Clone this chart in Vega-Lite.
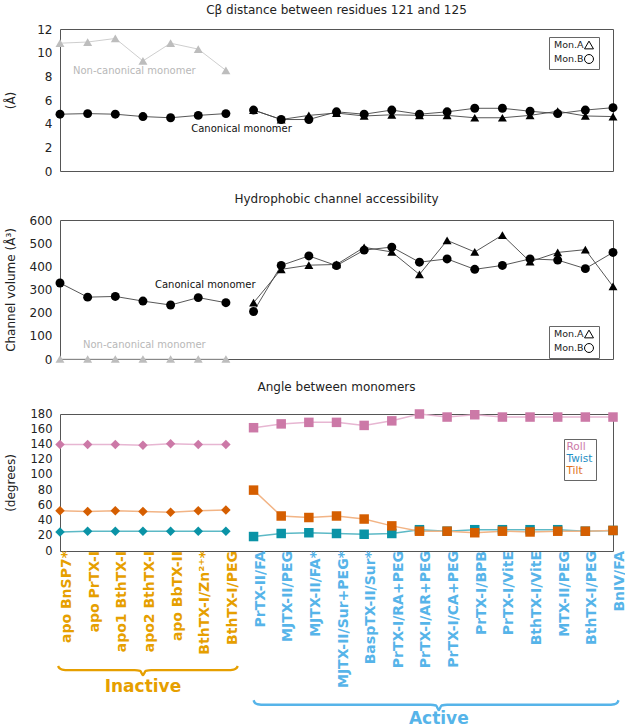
{
"$schema": "https://vega.github.io/schema/vega-lite/v6.json",
"padding": {"left": 3, "right": 3, "top": 3, "bottom": 0},
"background": "white",
"spacing": 14,
"config": {
  "font": "DejaVu Sans",
  "view": {"stroke": "#555", "strokeWidth": 1},
  "axis": {"grid": false, "domain": false, "labelFont": "DejaVu Sans", "labelFontSize": 12, "labelColor": "#222", "labelOverlap": false, "titleFont": "DejaVu Sans", "titleFontSize": 12, "titleFontWeight": "normal", "titleColor": "#222", "tickColor": "#555"},
  "axisY": {"labelOverlap": false},
  "axisQuantitative": {"labelOverlap": false},
  "title": {"font": "DejaVu Sans", "fontSize": 12, "fontWeight": "normal", "color": "#222"},
  "legend": {"labelFont": "DejaVu Sans"}
},
"resolve": {"scale": {"color": "independent", "shape": "independent"}, "legend": {"color": "independent", "shape": "independent"}},
"datasets": {
  "cats": [
    {"i": 0, "name": "apo BnSP7*", "state": "Inactive"},
    {"i": 1, "name": "apo PrTX-I", "state": "Inactive"},
    {"i": 2, "name": "apo1 BthTX-I", "state": "Inactive"},
    {"i": 3, "name": "apo2 BthTX-I", "state": "Inactive"},
    {"i": 4, "name": "apo BbTX-II", "state": "Inactive"},
    {"i": 5, "name": "BthTX-I/Zn²⁺*", "state": "Inactive"},
    {"i": 6, "name": "BthTX-I/PEG", "state": "Inactive"},
    {"i": 7, "name": "PrTX-II/FA", "state": "Active"},
    {"i": 8, "name": "MJTX-II/PEG", "state": "Active"},
    {"i": 9, "name": "MJTX-II/FA*", "state": "Active"},
    {"i": 10, "name": "MJTX-II/Sur+PEG*", "state": "Active"},
    {"i": 11, "name": "BaspTX-II/Sur*", "state": "Active"},
    {"i": 12, "name": "PrTX-I/RA+PEG", "state": "Active"},
    {"i": 13, "name": "PrTX-I/AR+PEG", "state": "Active"},
    {"i": 14, "name": "PrTX-I/CA+PEG", "state": "Active"},
    {"i": 15, "name": "PrTX-I/BPB", "state": "Active"},
    {"i": 16, "name": "PrTX-I/VitE", "state": "Active"},
    {"i": 17, "name": "BthTX-I/VitE", "state": "Active"},
    {"i": 18, "name": "MTX-II/PEG", "state": "Active"},
    {"i": 19, "name": "BthTX-I/PEG", "state": "Active"},
    {"i": 20, "name": "BnIV/FA", "state": "Active"}
  ],
  "mono": [
    {"i": 0, "mon": "Mon.A", "grp": "Inactive", "tone": "non-canonical", "cb": 10.8, "vol": 0},
    {"i": 1, "mon": "Mon.A", "grp": "Inactive", "tone": "non-canonical", "cb": 10.9, "vol": 0},
    {"i": 2, "mon": "Mon.A", "grp": "Inactive", "tone": "non-canonical", "cb": 11.2, "vol": 0},
    {"i": 3, "mon": "Mon.A", "grp": "Inactive", "tone": "non-canonical", "cb": 9.3, "vol": 0},
    {"i": 4, "mon": "Mon.A", "grp": "Inactive", "tone": "non-canonical", "cb": 10.8, "vol": 0},
    {"i": 5, "mon": "Mon.A", "grp": "Inactive", "tone": "non-canonical", "cb": 10.3, "vol": 0},
    {"i": 6, "mon": "Mon.A", "grp": "Inactive", "tone": "non-canonical", "cb": 8.5, "vol": 0},
    {"i": 0, "mon": "Mon.B", "grp": "Inactive", "tone": "canonical", "cb": 4.8, "vol": 328},
    {"i": 1, "mon": "Mon.B", "grp": "Inactive", "tone": "canonical", "cb": 4.85, "vol": 267},
    {"i": 2, "mon": "Mon.B", "grp": "Inactive", "tone": "canonical", "cb": 4.8, "vol": 270},
    {"i": 3, "mon": "Mon.B", "grp": "Inactive", "tone": "canonical", "cb": 4.6, "vol": 250},
    {"i": 4, "mon": "Mon.B", "grp": "Inactive", "tone": "canonical", "cb": 4.5, "vol": 233},
    {"i": 5, "mon": "Mon.B", "grp": "Inactive", "tone": "canonical", "cb": 4.7, "vol": 265},
    {"i": 6, "mon": "Mon.B", "grp": "Inactive", "tone": "canonical", "cb": 4.85, "vol": 243},
    {"i": 7, "mon": "Mon.A", "grp": "Active", "tone": "canonical", "cb": 5.15, "vol": 243},
    {"i": 8, "mon": "Mon.A", "grp": "Active", "tone": "canonical", "cb": 4.35, "vol": 387},
    {"i": 9, "mon": "Mon.A", "grp": "Active", "tone": "canonical", "cb": 4.7, "vol": 405},
    {"i": 10, "mon": "Mon.A", "grp": "Active", "tone": "canonical", "cb": 4.9, "vol": 408},
    {"i": 11, "mon": "Mon.A", "grp": "Active", "tone": "canonical", "cb": 4.65, "vol": 482},
    {"i": 12, "mon": "Mon.A", "grp": "Active", "tone": "canonical", "cb": 4.75, "vol": 462},
    {"i": 13, "mon": "Mon.A", "grp": "Active", "tone": "canonical", "cb": 4.7, "vol": 365},
    {"i": 14, "mon": "Mon.A", "grp": "Active", "tone": "canonical", "cb": 4.7, "vol": 512},
    {"i": 15, "mon": "Mon.A", "grp": "Active", "tone": "canonical", "cb": 4.5, "vol": 462},
    {"i": 16, "mon": "Mon.A", "grp": "Active", "tone": "canonical", "cb": 4.5, "vol": 535},
    {"i": 17, "mon": "Mon.A", "grp": "Active", "tone": "canonical", "cb": 4.7, "vol": 420},
    {"i": 18, "mon": "Mon.A", "grp": "Active", "tone": "canonical", "cb": 5.05, "vol": 460},
    {"i": 19, "mon": "Mon.A", "grp": "Active", "tone": "canonical", "cb": 4.65, "vol": 472},
    {"i": 20, "mon": "Mon.A", "grp": "Active", "tone": "canonical", "cb": 4.6, "vol": 313},
    {"i": 7, "mon": "Mon.B", "grp": "Active", "tone": "canonical", "cb": 5.15, "vol": 205},
    {"i": 8, "mon": "Mon.B", "grp": "Active", "tone": "canonical", "cb": 4.35, "vol": 404},
    {"i": 9, "mon": "Mon.B", "grp": "Active", "tone": "canonical", "cb": 4.35, "vol": 445},
    {"i": 10, "mon": "Mon.B", "grp": "Active", "tone": "canonical", "cb": 5.0, "vol": 403},
    {"i": 11, "mon": "Mon.B", "grp": "Active", "tone": "canonical", "cb": 4.8, "vol": 470},
    {"i": 12, "mon": "Mon.B", "grp": "Active", "tone": "canonical", "cb": 5.15, "vol": 483},
    {"i": 13, "mon": "Mon.B", "grp": "Active", "tone": "canonical", "cb": 4.8, "vol": 418},
    {"i": 14, "mon": "Mon.B", "grp": "Active", "tone": "canonical", "cb": 5.0, "vol": 432},
    {"i": 15, "mon": "Mon.B", "grp": "Active", "tone": "canonical", "cb": 5.3, "vol": 387},
    {"i": 16, "mon": "Mon.B", "grp": "Active", "tone": "canonical", "cb": 5.3, "vol": 404},
    {"i": 17, "mon": "Mon.B", "grp": "Active", "tone": "canonical", "cb": 5.05, "vol": 432},
    {"i": 18, "mon": "Mon.B", "grp": "Active", "tone": "canonical", "cb": 4.85, "vol": 427},
    {"i": 19, "mon": "Mon.B", "grp": "Active", "tone": "canonical", "cb": 5.15, "vol": 390},
    {"i": 20, "mon": "Mon.B", "grp": "Active", "tone": "canonical", "cb": 5.35, "vol": 460}
  ],
  "angles": [
    {"i": 0, "grp": "Inactive", "angle": "Roll", "deg": 140},
    {"i": 1, "grp": "Inactive", "angle": "Roll", "deg": 140},
    {"i": 2, "grp": "Inactive", "angle": "Roll", "deg": 140},
    {"i": 3, "grp": "Inactive", "angle": "Roll", "deg": 139},
    {"i": 4, "grp": "Inactive", "angle": "Roll", "deg": 141},
    {"i": 5, "grp": "Inactive", "angle": "Roll", "deg": 140},
    {"i": 6, "grp": "Inactive", "angle": "Roll", "deg": 140},
    {"i": 0, "grp": "Inactive", "angle": "Twist", "deg": 25},
    {"i": 1, "grp": "Inactive", "angle": "Twist", "deg": 26},
    {"i": 2, "grp": "Inactive", "angle": "Twist", "deg": 26},
    {"i": 3, "grp": "Inactive", "angle": "Twist", "deg": 26},
    {"i": 4, "grp": "Inactive", "angle": "Twist", "deg": 26},
    {"i": 5, "grp": "Inactive", "angle": "Twist", "deg": 26},
    {"i": 6, "grp": "Inactive", "angle": "Twist", "deg": 26},
    {"i": 0, "grp": "Inactive", "angle": "Tilt", "deg": 53},
    {"i": 1, "grp": "Inactive", "angle": "Tilt", "deg": 52},
    {"i": 2, "grp": "Inactive", "angle": "Tilt", "deg": 53},
    {"i": 3, "grp": "Inactive", "angle": "Tilt", "deg": 52},
    {"i": 4, "grp": "Inactive", "angle": "Tilt", "deg": 51},
    {"i": 5, "grp": "Inactive", "angle": "Tilt", "deg": 53},
    {"i": 6, "grp": "Inactive", "angle": "Tilt", "deg": 54},
    {"i": 7, "grp": "Active", "angle": "Roll", "deg": 162},
    {"i": 8, "grp": "Active", "angle": "Roll", "deg": 167},
    {"i": 9, "grp": "Active", "angle": "Roll", "deg": 169},
    {"i": 10, "grp": "Active", "angle": "Roll", "deg": 169},
    {"i": 11, "grp": "Active", "angle": "Roll", "deg": 165},
    {"i": 12, "grp": "Active", "angle": "Roll", "deg": 171},
    {"i": 13, "grp": "Active", "angle": "Roll", "deg": 180},
    {"i": 14, "grp": "Active", "angle": "Roll", "deg": 176},
    {"i": 15, "grp": "Active", "angle": "Roll", "deg": 179},
    {"i": 16, "grp": "Active", "angle": "Roll", "deg": 176},
    {"i": 17, "grp": "Active", "angle": "Roll", "deg": 176},
    {"i": 18, "grp": "Active", "angle": "Roll", "deg": 176},
    {"i": 19, "grp": "Active", "angle": "Roll", "deg": 176},
    {"i": 20, "grp": "Active", "angle": "Roll", "deg": 176},
    {"i": 7, "grp": "Active", "angle": "Twist", "deg": 19},
    {"i": 8, "grp": "Active", "angle": "Twist", "deg": 23},
    {"i": 9, "grp": "Active", "angle": "Twist", "deg": 24},
    {"i": 10, "grp": "Active", "angle": "Twist", "deg": 23},
    {"i": 11, "grp": "Active", "angle": "Twist", "deg": 22},
    {"i": 12, "grp": "Active", "angle": "Twist", "deg": 23},
    {"i": 13, "grp": "Active", "angle": "Twist", "deg": 28},
    {"i": 14, "grp": "Active", "angle": "Twist", "deg": 26},
    {"i": 15, "grp": "Active", "angle": "Twist", "deg": 28},
    {"i": 16, "grp": "Active", "angle": "Twist", "deg": 28},
    {"i": 17, "grp": "Active", "angle": "Twist", "deg": 28},
    {"i": 18, "grp": "Active", "angle": "Twist", "deg": 28},
    {"i": 19, "grp": "Active", "angle": "Twist", "deg": 26},
    {"i": 20, "grp": "Active", "angle": "Twist", "deg": 27},
    {"i": 7, "grp": "Active", "angle": "Tilt", "deg": 80},
    {"i": 8, "grp": "Active", "angle": "Tilt", "deg": 46},
    {"i": 9, "grp": "Active", "angle": "Tilt", "deg": 44},
    {"i": 10, "grp": "Active", "angle": "Tilt", "deg": 46},
    {"i": 11, "grp": "Active", "angle": "Tilt", "deg": 42},
    {"i": 12, "grp": "Active", "angle": "Tilt", "deg": 33},
    {"i": 13, "grp": "Active", "angle": "Tilt", "deg": 26},
    {"i": 14, "grp": "Active", "angle": "Tilt", "deg": 26},
    {"i": 15, "grp": "Active", "angle": "Tilt", "deg": 24},
    {"i": 16, "grp": "Active", "angle": "Tilt", "deg": 26},
    {"i": 17, "grp": "Active", "angle": "Tilt", "deg": 25},
    {"i": 18, "grp": "Active", "angle": "Tilt", "deg": 26},
    {"i": 19, "grp": "Active", "angle": "Tilt", "deg": 26},
    {"i": 20, "grp": "Active", "angle": "Tilt", "deg": 27}
  ],
  "braces": [
    {"state": "Inactive", "bx": -0.07, "by": -151},
    {"state": "Inactive", "bx": -0.02, "by": -154},
    {"state": "Inactive", "bx": 0.08, "by": -155.8},
    {"state": "Inactive", "bx": 0.3, "by": -156.5},
    {"state": "Inactive", "bx": 2.7, "by": -156.5},
    {"state": "Inactive", "bx": 2.9, "by": -157.5},
    {"state": "Inactive", "bx": 3.0, "by": -163},
    {"state": "Inactive", "bx": 3.1, "by": -157.5},
    {"state": "Inactive", "bx": 3.3, "by": -156.5},
    {"state": "Inactive", "bx": 6.06, "by": -156.5},
    {"state": "Inactive", "bx": 6.28, "by": -155.8},
    {"state": "Inactive", "bx": 6.38, "by": -154},
    {"state": "Inactive", "bx": 6.43, "by": -151},
    {"state": "Active", "bx": 7.0, "by": -196},
    {"state": "Active", "bx": 7.05, "by": -199.5},
    {"state": "Active", "bx": 7.15, "by": -201.3},
    {"state": "Active", "bx": 7.4, "by": -202},
    {"state": "Active", "bx": 13.4, "by": -202},
    {"state": "Active", "bx": 13.6, "by": -203},
    {"state": "Active", "bx": 13.7, "by": -209},
    {"state": "Active", "bx": 13.8, "by": -203},
    {"state": "Active", "bx": 14.0, "by": -202},
    {"state": "Active", "bx": 19.8, "by": -202},
    {"state": "Active", "bx": 20.05, "by": -201.3},
    {"state": "Active", "bx": 20.15, "by": -199.5},
    {"state": "Active", "bx": 20.2, "by": -196}
  ]
},
"vconcat": [
  {
    "width": 553, "height": 142,
    "title": {"text": "Cβ distance between residues 121 and 125", "offset": 6},
    "encoding": {
      "x": {"type": "quantitative", "scale": {"domain": [0, 20], "nice": false, "zero": false}, "axis": null},
      "y": {"type": "quantitative", "scale": {"domain": [0, 12], "nice": false},
            "axis": {"title": "(Å)", "values": [0, 2, 4, 6, 8, 10, 12], "labelOverlap": false, "ticks": false, "labelPadding": 8, "minExtent": 30, "maxExtent": 30, "titlePadding": 13}}
    },
    "layer": [
      {
        "data": {"name": "mono"},
        "mark": {"type": "line", "strokeWidth": 0.9},
        "encoding": {
          "x": {"field": "i"},
          "y": {"field": "cb"},
          "color": {"condition": {"test": "datum.tone === 'non-canonical'", "value": "#c8c8c8"}, "value": "#444444"},
          "detail": [{"field": "mon"}, {"field": "grp"}]
        }
      },
      {
        "data": {"name": "mono"},
        "mark": {"type": "point", "filled": true, "opacity": 1, "size": 80},
        "encoding": {
          "x": {"field": "i"},
          "y": {"field": "cb"},
          "color": {"field": "tone", "type": "nominal", "scale": {"domain": ["non-canonical", "canonical"], "range": ["#bdbdbd", "#000000"]}, "legend": null},
          "shape": {"field": "mon", "type": "nominal", "scale": {"domain": ["Mon.A", "Mon.B"], "range": ["triangle-up", "circle"]},
                    "legend": {"title": null, "orient": "none", "legendX": 489, "legendY": 8, "labelFontSize": 9.5, "labelColor": "#222", "symbolOffset": 32, "labelOffset": -40, "strokeColor": "#666", "fillColor": "white", "padding": 3, "rowPadding": 1, "symbolSize": 80, "symbolFillColor": "white", "symbolStrokeColor": "black", "symbolStrokeWidth": 1}}
        }
      },
      {
        "data": {"values": [{}]},
        "mark": {"type": "text", "text": "Non-canonical monomer", "align": "left", "baseline": "middle", "fontSize": 10, "color": "#b8b8b8", "dx": 13},
        "encoding": {"x": {"datum": 0}, "y": {"datum": 8.45}}
      },
      {
        "data": {"values": [{}]},
        "mark": {"type": "text", "text": "Canonical monomer", "align": "left", "baseline": "middle", "fontSize": 10, "color": "#111", "dx": -7},
        "encoding": {"x": {"datum": 5}, "y": {"datum": 3.55}}
      }
    ]
  },
  {
    "width": 553, "height": 139,
    "title": {"text": "Hydrophobic channel accessibility", "offset": 8},
    "encoding": {
      "x": {"type": "quantitative", "scale": {"domain": [0, 20], "nice": false, "zero": false}, "axis": null},
      "y": {"type": "quantitative", "scale": {"domain": [0, 600], "nice": false},
            "axis": {"title": "Channel volume (Å³)", "values": [0, 100, 200, 300, 400, 500, 600], "labelOverlap": false, "ticks": false, "labelPadding": 8, "minExtent": 30, "maxExtent": 30, "titlePadding": 13}}
    },
    "layer": [
      {
        "data": {"name": "mono"},
        "mark": {"type": "line", "strokeWidth": 0.9},
        "encoding": {
          "x": {"field": "i"},
          "y": {"field": "vol"},
          "color": {"condition": {"test": "datum.tone === 'non-canonical'", "value": "#c8c8c8"}, "value": "#444444"},
          "detail": [{"field": "mon"}, {"field": "grp"}]
        }
      },
      {
        "data": {"name": "mono"},
        "mark": {"type": "point", "filled": true, "opacity": 1, "size": 80},
        "encoding": {
          "x": {"field": "i"},
          "y": {"field": "vol"},
          "color": {"field": "tone", "type": "nominal", "scale": {"domain": ["non-canonical", "canonical"], "range": ["#bdbdbd", "#000000"]}, "legend": null},
          "shape": {"field": "mon", "type": "nominal", "scale": {"domain": ["Mon.A", "Mon.B"], "range": ["triangle-up", "circle"]},
                    "legend": {"title": null, "orient": "none", "legendX": 489, "legendY": 106, "labelFontSize": 9.5, "labelColor": "#222", "symbolOffset": 32, "labelOffset": -40, "strokeColor": "#666", "fillColor": "white", "padding": 3, "rowPadding": 1, "symbolSize": 80, "symbolFillColor": "white", "symbolStrokeColor": "black", "symbolStrokeWidth": 1}}
        }
      },
      {
        "data": {"values": [{}]},
        "mark": {"type": "text", "text": "Non-canonical monomer", "align": "left", "baseline": "middle", "fontSize": 10, "color": "#b8b8b8", "dx": 23},
        "encoding": {"x": {"datum": 0}, "y": {"datum": 60}}
      },
      {
        "data": {"values": [{}]},
        "mark": {"type": "text", "text": "Canonical monomer", "align": "left", "baseline": "middle", "fontSize": 10, "color": "#111", "dx": 12},
        "encoding": {"x": {"datum": 3}, "y": {"datum": 318}}
      }
    ]
  },
  {
    "width": 553, "height": 137,
    "title": {"text": "Angle between monomers", "offset": 14},
    "encoding": {
      "x": {"type": "quantitative", "scale": {"domain": [0, 20], "nice": false, "zero": false}, "axis": null},
      "y": {"type": "quantitative", "scale": {"domain": [0, 180], "nice": false},
            "axis": {"title": "(degrees)", "values": [0, 20, 40, 60, 80, 100, 120, 140, 160, 180], "labelOverlap": false, "labelFontSize": 11.5, "ticks": false, "labelPadding": 8, "minExtent": 30, "maxExtent": 30, "titlePadding": 13}}
    },
    "layer": [
      {
        "data": {"name": "angles"},
        "mark": {"type": "line", "strokeWidth": 1.5},
        "encoding": {
          "x": {"field": "i"},
          "y": {"field": "deg"},
          "color": {"condition": [{"test": "datum.angle === 'Roll'", "value": "#e7b6d2"}, {"test": "datum.angle === 'Twist'", "value": "#5cb9c6"}], "value": "#f2b485"},
          "detail": [{"field": "grp"}, {"field": "angle"}]
        }
      },
      {
        "data": {"name": "angles"},
        "mark": {"type": "point", "filled": true, "opacity": 1, "size": 90},
        "encoding": {
          "x": {"field": "i"},
          "y": {"field": "deg"},
          "color": {"field": "angle", "type": "nominal", "scale": {"domain": ["Roll", "Twist", "Tilt"], "range": ["#CC79A7", "#0a93a6", "#D55E00"]},
                    "legend": {"title": null, "orient": "none", "legendX": 504, "legendY": 25, "labelFontSize": 10.5, "strokeColor": "#666", "fillColor": "white", "padding": 3, "rowPadding": 1, "symbolOpacity": 0, "symbolSize": 1, "labelOffset": -11,
                               "labelColor": {"expr": "datum.value === 'Roll' ? '#CC79A7' : datum.value === 'Twist' ? '#1f8ec4' : '#E0701a'"}}},
          "shape": {"field": "grp", "type": "nominal", "scale": {"domain": ["Inactive", "Active"], "range": ["diamond", "square"]}, "legend": null}
        }
      },
      {
        "data": {"name": "braces"},
        "mark": {"type": "line", "strokeWidth": 2.4, "interpolate": "monotone"},
        "encoding": {
          "x": {"field": "bx"},
          "y": {"field": "by"},
          "color": {"condition": {"test": "datum.state === 'Inactive'", "value": "#E69F00"}, "value": "#56B4E9"},
          "detail": {"field": "state"}
        }
      },
      {
        "data": {"name": "cats"},
        "mark": {"type": "text", "angle": 270, "align": "right", "baseline": "middle", "dy": 7, "fontSize": 14, "fontWeight": "bold"},
        "encoding": {
          "x": {"field": "i"},
          "y": {"datum": 0},
          "text": {"field": "name"},
          "color": {"condition": {"test": "datum.state === 'Inactive'", "value": "#E69F00"}, "value": "#56B4E9"}
        }
      },
      {
        "data": {"values": [{}]},
        "mark": {"type": "text", "text": "Inactive", "align": "center", "baseline": "middle", "fontSize": 17, "fontWeight": "bold", "color": "#E69F00"},
        "encoding": {"x": {"datum": 3}, "y": {"datum": -179}}
      },
      {
        "data": {"values": [{}]},
        "mark": {"type": "text", "text": "Active", "align": "center", "baseline": "middle", "fontSize": 17, "fontWeight": "bold", "color": "#56B4E9"},
        "encoding": {"x": {"datum": 13.7}, "y": {"datum": -221}}
      }
    ]
  }
]
}
